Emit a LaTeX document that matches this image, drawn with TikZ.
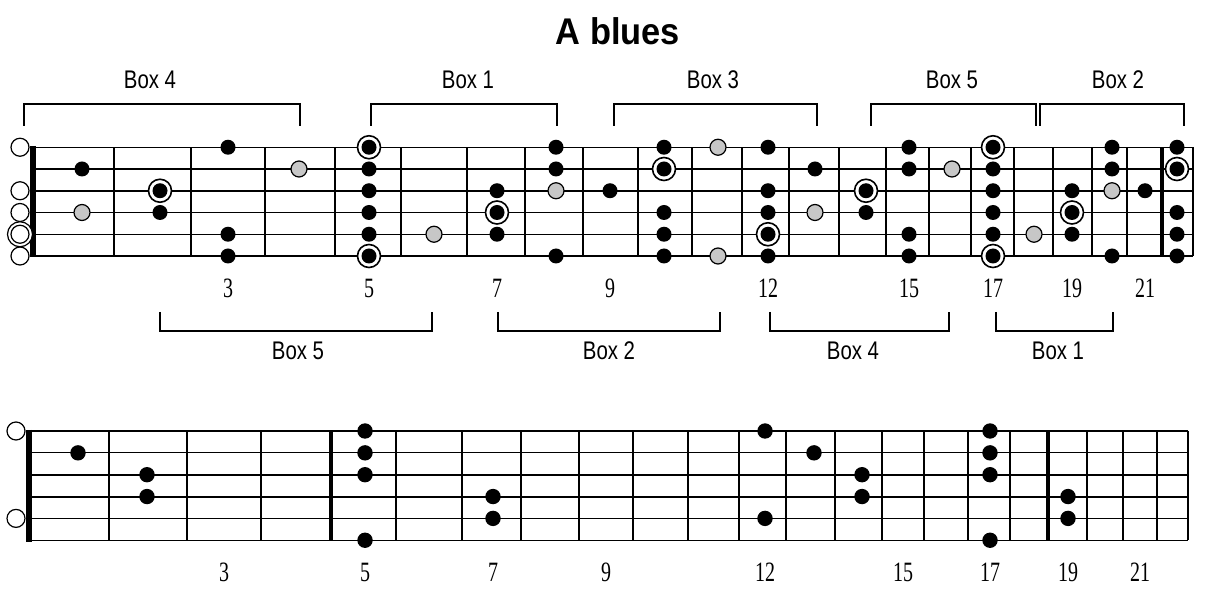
\documentclass[tikz,border=0pt]{standalone}
\usepackage{fontspec}
\setmainfont{Liberation Serif}
\setsansfont{Liberation Sans}
\usepackage{tikz}
\usetikzlibrary{arrows.meta, positioning}

\tikzset{
  fretline/.style={line width=1pt},
  heavyfret/.style={line width=1.6pt},
  nutline/.style={line width=2.6pt},
  bracket/.style={line width=0.55pt},
  boxlabel/.style={font=\sffamily\fontsize{10.2}{12}\selectfont},
  fretnum/.style={font=\fontsize{10}{12}\selectfont},
  opencirc/.style={draw=black, fill=white, line width=0.6pt},
  bluenote/.style={draw=black, fill=black!22, line width=0.6pt},
  rootring/.style={draw=black, fill=white, line width=0.8pt}
}
\newcommand{\tallnum}[1]{\scalebox{1}[1.4]{#1}}
\newcommand{\tallbox}[1]{\scalebox{1}[1.25]{#1}}
% dot centres per fret (0 = open string)
\def\topx{{20,82,160,228,299,369,434,497,556,610,664,718,768,815,866,909,952,993,1034,1072,1112,1145,1177}}
\def\lowx{{16,78,147,224,296,365,429,493,550,606,660,713,765,814,862,903,946,990,1029,1068,1105,1140,1172}}

\begin{document}
\begin{tikzpicture}[x=0.5pt, y=-0.5pt]
\useasboundingbox (0,0) rectangle (1214,608);

\node[font=\sffamily\bfseries\fontsize{17.2}{20}\selectfont] (title) at (618,31) {\scalebox{1}[1.08]{A blues}};

% boxes above the upper neck
\draw[bracket] (24,126) -- (24,104) -- (300,104) -- (300,126);
\node[boxlabel] (boxfour) at (150,80) {\tallbox{Box 4}};
\draw[bracket] (371,126) -- (371,104) -- (557,104) -- (557,126);
\node[boxlabel] (boxone) at (468,80) {\tallbox{Box 1}};
\draw[bracket] (614,126) -- (614,104) -- (817,104) -- (817,126);
\node[boxlabel] (boxthree) at (713,80) {\tallbox{Box 3}};
\draw[bracket] (871,126) -- (871,104) -- (1036,104) -- (1036,126);
\node[boxlabel] (boxfive) at (952,80) {\tallbox{Box 5}};
\draw[bracket] (1040,126) -- (1040,104) -- (1184,104) -- (1184,126);
\node[boxlabel] (boxtwo) at (1118,80) {\tallbox{Box 2}};

% upper neck
\foreach \s/\w in {1/0.7,2/0.6,3/0.95,4/0.95,5/0.6,6/0.7}
  \draw[line width=\w pt] (33,{125.5+21.75*\s}) -- (1193,{125.5+21.75*\s});
\foreach \x in {114,191,265,335,401,467,525,583,638,692,742,789,839,886,929,971,1014,1053,1092,1127,1193}
  \draw[fretline] (\x,147.25) -- (\x,256);
\draw[heavyfret] (1162,147.25) -- (1162,256);
\draw[nutline] (33,146) -- (33,257.3);

% open strings
\foreach \s in {1,3,4,6}
  \draw[opencirc] (20,{125.5+21.75*\s}) circle[radius=9];
\draw[opencirc] (20,234.25) circle[radius=12.5];
\draw[opencirc] (20,234.25) circle[radius=9];

% scale notes
\foreach \f/\s in {3/1,8/1,10/1,12/1,15/1,20/1,22/1,
                   1/2,5/2,8/2,13/2,15/2,17/2,20/2,
                   5/3,7/3,9/3,12/3,17/3,19/3,21/3,
                   2/4,5/4,10/4,12/4,14/4,17/4,22/4,
                   3/5,5/5,7/5,10/5,15/5,17/5,19/5,22/5,
                   3/6,8/6,10/6,12/6,15/6,20/6,22/6} {
  \pgfmathsetmacro\xx{\topx[\f]}
  \fill (\xx,{125.5+21.75*\s}) circle[radius=7.5];
}
% blue notes
\foreach \f/\s in {11/1,4/2,16/2,8/3,20/3,1/4,13/4,6/5,18/5,11/6} {
  \pgfmathsetmacro\xx{\topx[\f]}
  \draw[bluenote] (\xx,{125.5+21.75*\s}) circle[radius=8];
}
% roots
\foreach \f/\s in {5/1,17/1,10/2,22/2,2/3,14/3,7/4,19/4,12/5,5/6,17/6} {
  \pgfmathsetmacro\xx{\topx[\f]}
  \draw[rootring] (\xx,{125.5+21.75*\s}) circle[radius=11.5];
  \fill (\xx,{125.5+21.75*\s}) circle[radius=7.5];
}

\foreach \n in {3,5,7,9,12,15,17,19,21} {
  \pgfmathsetmacro\xx{\topx[\n]}
  \node[fretnum] (upnum\n) at (\xx,288) {\tallnum{\n}};
}

% boxes below the upper neck
\draw[bracket] (160,312) -- (160,331) -- (432,331) -- (432,312);
\node[boxlabel] (lowfive) at (298,351) {\tallbox{Box 5}};
\draw[bracket] (498,312) -- (498,331) -- (720,331) -- (720,312);
\node[boxlabel] (lowtwo) at (609,351) {\tallbox{Box 2}};
\draw[bracket] (770,312) -- (770,331) -- (949,331) -- (949,312);
\node[boxlabel] (lowfour) at (853,351) {\tallbox{Box 4}};
\draw[bracket] (996,312) -- (996,331) -- (1113,331) -- (1113,312);
\node[boxlabel] (lowone) at (1058,351) {\tallbox{Box 1}};

% lower neck
\foreach \s/\w in {1/0.7,2/0.6,3/0.95,4/0.95,5/0.6,6/0.7}
  \draw[line width=\w pt] (29,{409.15+21.85*\s}) -- (1188,{409.15+21.85*\s});
\foreach \x in {109,187,261,396,462,521,579,633,688,739,786,835,882,924,968,1010,1087,1123,1157,1188}
  \draw[fretline] (\x,431) -- (\x,540.25);
\draw[heavyfret] (331,431) -- (331,540.25);
\draw[heavyfret] (1048,431) -- (1048,540.25);
\draw[nutline] (29,429.8) -- (29,541.5);

\foreach \s in {1,5}
  \draw[opencirc] (16,{409.15+21.85*\s}) circle[radius=9];
\foreach \f/\s in {1/2,2/3,2/4,5/1,5/2,5/3,5/6,7/4,7/5,
                   12/1,12/5,13/2,14/3,14/4,17/1,17/2,17/3,17/6,19/4,19/5} {
  \pgfmathsetmacro\xx{\lowx[\f]}
  \fill (\xx,{409.15+21.85*\s}) circle[radius=7.7];
}

\foreach \n in {3,5,7,9,12,15,17,19,21} {
  \pgfmathsetmacro\xx{\lowx[\n]}
  \node[fretnum] (lownum\n) at (\xx,572) {\tallnum{\n}};
}
\end{tikzpicture}
\end{document}
